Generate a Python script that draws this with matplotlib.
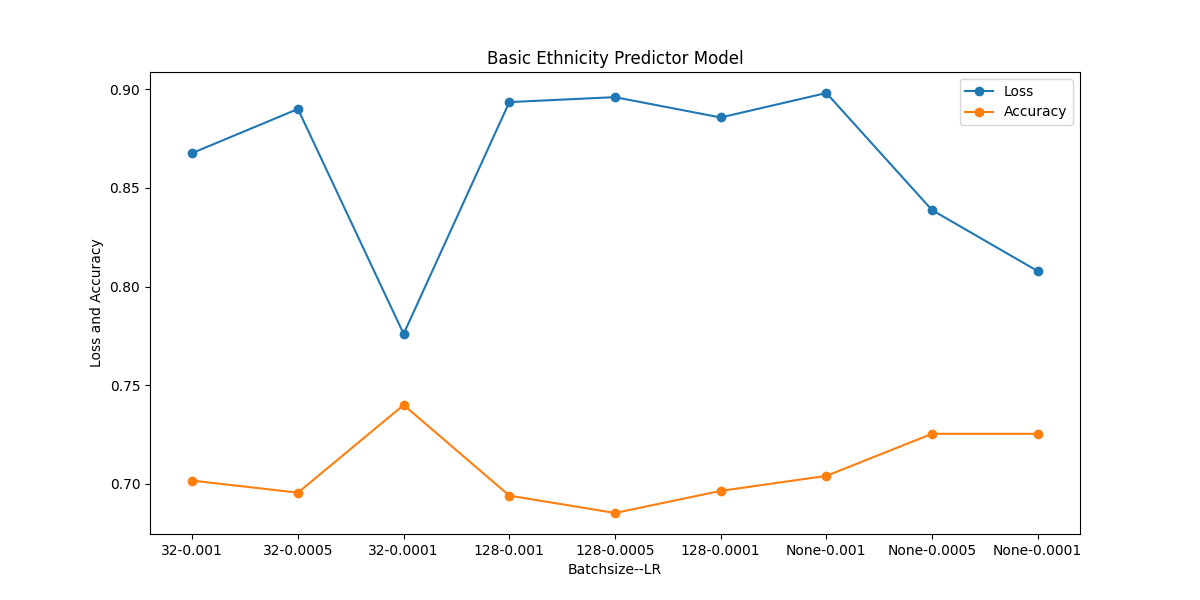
import matplotlib
matplotlib.use("Agg")
import matplotlib.pyplot as plt

labels = ["32-0.001", "32-0.0005", "32-0.0001", "128-0.001", "128-0.0005",
          "128-0.0001", "None-0.001", "None-0.0005", "None-0.0001"]
loss = [0.8676, 0.8899, 0.7760, 0.8934, 0.8959, 0.8856, 0.8980, 0.8387, 0.8078]
accuracy = [0.7017, 0.6956, 0.7400, 0.6941, 0.6853, 0.6965, 0.7041, 0.7254, 0.7254]

fig, ax = plt.subplots(figsize=(12, 6), dpi=100)
ax.plot(labels, loss, marker="o", label="Loss")
ax.plot(labels, accuracy, marker="o", label="Accuracy")
ax.set_title("Basic Ethnicity Predictor Model")
ax.set_xlabel("Batchsize--LR")
ax.set_ylabel("Loss and Accuracy")
ax.legend()
fig.savefig("out.png")
